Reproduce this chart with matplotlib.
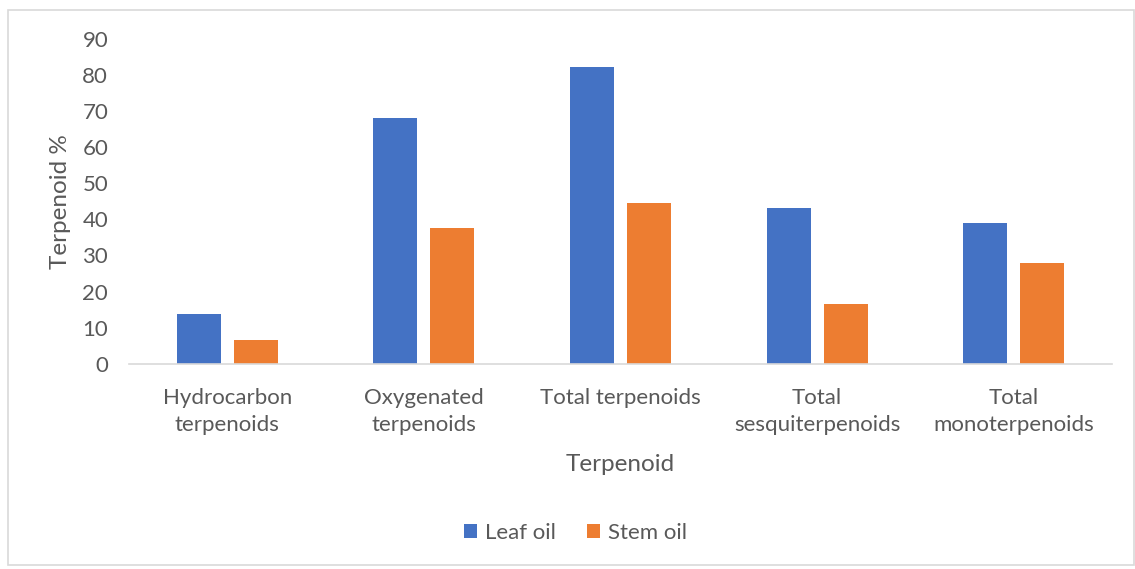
import matplotlib.pyplot as plt
import numpy as np
from matplotlib.patches import Rectangle

categories = ['Hydrocarbon\nterpenoids', 'Oxygenated\nterpenoids', 'Total terpenoids',
              'Total\nsesquiterpenoids', 'Total\nmonoterpenoids']
leaf_oil = [13.9, 68.1, 82.2, 43.1, 38.9]
stem_oil = [6.6, 37.6, 44.6, 16.5, 27.8]

plt.rcParams['font.family'] = ['Lato', 'DejaVu Sans']
grey = '#595959'

fig = plt.figure(figsize=(11.35, 5.69), dpi=100)
fig.patches.append(Rectangle((8 / 1135, 4 / 569), 1 - 8 / 1135 - 0.001, 1 - 14 / 569,
                             transform=fig.transFigure, fill=False,
                             edgecolor='#d9d9d9', linewidth=1.2))
ax = fig.add_axes([0.1137, 0.3603, 0.866, 0.572])

x = np.arange(len(categories))
w = 0.224
gap = 0.066
ax.bar(x - (w + gap) / 2, leaf_oil, w, color='#4472c4', label='Leaf oil')
ax.bar(x + (w + gap) / 2, stem_oil, w, color='#ed7d31', label='Stem oil')

ax.set_xlim(-0.5, len(categories) - 0.5)
ax.set_ylim(0, 90)
ax.set_yticks(range(0, 91, 10))
ax.set_xticks(x)
ax.set_xticklabels(categories, va='top')
ax.tick_params(axis='both', length=0, labelsize=16, colors=grey)
ax.tick_params(axis='y', pad=15)
ax.tick_params(axis='x', pad=17)
for s in ['top', 'right', 'left']:
    ax.spines[s].set_visible(False)
ax.spines['bottom'].set_color('#d9d9d9')
ax.spines['bottom'].set_linewidth(1.2)

for lbl in ax.get_xticklabels():
    lbl.set_linespacing(1.45)

ax.set_xlabel('Terpenoid', fontsize=17.5, color=grey, labelpad=14)
ax.set_ylabel('Terpenoid %', fontsize=17.5, color=grey, labelpad=8)

h, l = ax.get_legend_handles_labels()
fig.legend(h, l, loc='center', bbox_to_anchor=(0.507, 1 - 533 / 569), ncol=2,
           frameon=False, fontsize=16, labelcolor=grey, handlelength=0.6,
           handleheight=0.6, handletextpad=0.35, columnspacing=1.4)

fig.savefig('out.png', dpi=100)
